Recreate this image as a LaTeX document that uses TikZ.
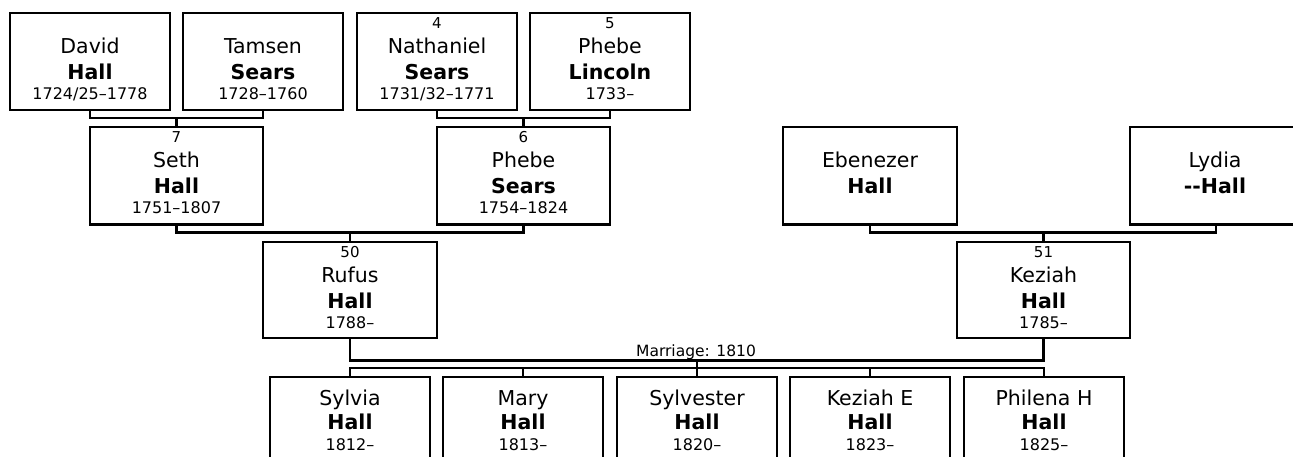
\documentclass[tikz,border=0pt]{standalone}
\usepackage{fontspec}
\setmainfont{DejaVu Sans}
\tikzset{
  pbox/.style={draw, line width=2.2pt, rectangle, outer sep=0pt, inner sep=0pt},
  link/.style={line width=2.2pt},
  nametxt/.style={anchor=base, inner sep=0pt, font=\fontsize{20.5}{24}\selectfont},
  lasttxt/.style={anchor=base, inner sep=0pt, font=\fontsize{20.5}{24}\selectfont\bfseries},
  yeartxt/.style={anchor=base, inner sep=0pt, font=\fontsize{16}{19}\selectfont},
  numtxt/.style={anchor=base, inner sep=0pt, font=\fontsize{15}{18}\selectfont},
}
\newcommand\ptxt[6]{%
  \node[nametxt] (#1-f) at (#2,#3+41) {#4};
  \node[lasttxt] (#1-l) at (#2,#3+66.5) {#5};
  \node[yeartxt] (#1-y) at (#2,#3+86.5) {#6};}
\newcommand\pnum[4]{\node[numtxt] (#1-n) at (#2,#3+15.5) {#4};}
\newcommand\ctxt[6]{%
  \node[nametxt] (#1-f) at (#2,#3+28.5) {#4};
  \node[lasttxt] (#1-l) at (#2,#3+52.5) {#5};
  \node[yeartxt] (#1-y) at (#2,#3+73.5) {#6};}
\begin{document}
\begin{tikzpicture}[x=1pt,y=-1pt]
\useasboundingbox (0,0) rectangle (1293,457);
\clip (0,0) rectangle (1293,457);
% row 1
\node[pbox, minimum width=160pt, minimum height=97pt] (david) at (90,61.5) {};
\node[pbox, minimum width=160pt, minimum height=97pt] (tamsen) at (263,61.5) {};
\node[pbox, minimum width=160pt, minimum height=97pt] (nath) at (437,61.5) {};
\node[pbox, minimum width=160pt, minimum height=97pt] (phebel) at (610,61.5) {};
\ptxt{david}{90}{13}{David}{Hall}{1724/25–1778}
\ptxt{tamsen}{263}{13}{Tamsen}{Sears}{1728–1760}
\pnum{nath}{437}{13}{4}
\ptxt{nath}{437}{13}{Nathaniel}{Sears}{1731/32–1771}
\pnum{phebel}{610}{13}{5}
\ptxt{phebel}{610}{13}{Phebe}{Lincoln}{1733–}
% row 2
\node[pbox, minimum width=173pt, minimum height=97.5pt] (seth) at (176.5,175.75) {};
\node[pbox, minimum width=173pt, minimum height=97.5pt] (phebes) at (523.5,175.75) {};
\node[pbox, minimum width=174pt, minimum height=97.5pt] (eben) at (870,175.75) {};
\node[pbox, minimum width=172pt, minimum height=97.5pt] (lydia) at (1216,175.75) {};
\pnum{seth}{176.5}{127}{7}
\ptxt{seth}{176.5}{127}{Seth}{Hall}{1751–1807}
\pnum{phebes}{523.5}{127}{6}
\ptxt{phebes}{523.5}{127}{Phebe}{Sears}{1754–1824}
\node[nametxt] (eben-f) at (870,168) {Ebenezer};
\node[lasttxt] (eben-l) at (870,193.5) {Hall};
\node[nametxt] (lydia-f) at (1215,168) {Lydia};
\node[lasttxt] (lydia-l) at (1215,193.5) {-{}-Hall};
% row 3
\node[pbox, minimum width=174pt, minimum height=96.3pt] (rufus) at (350,289.85) {};
\node[pbox, minimum width=173pt, minimum height=96.3pt] (keziah) at (1043.5,289.85) {};
\pnum{rufus}{350}{241.7}{50}
\ptxt{rufus}{350}{241.7}{Rufus}{Hall}{1788–}
\pnum{keziah}{1043.5}{241.7}{51}
\ptxt{keziah}{1043.5}{241.7}{Keziah}{Hall}{1785–}
% children
\node[pbox, minimum width=160pt, minimum height=104pt] (sylvia) at (350,428.7) {};
\node[pbox, minimum width=160pt, minimum height=104pt] (mary) at (523,428.7) {};
\node[pbox, minimum width=160pt, minimum height=104pt] (sylvester) at (697,428.7) {};
\node[pbox, minimum width=160pt, minimum height=104pt] (keziahe) at (870,428.7) {};
\node[pbox, minimum width=160pt, minimum height=104pt] (philena) at (1044,428.7) {};
\ctxt{sylvia}{350}{376.7}{Sylvia}{Hall}{1812–}
\ctxt{mary}{523}{376.7}{Mary}{Hall}{1813–}
\ctxt{sylvester}{697}{376.7}{Sylvester}{Hall}{1820–}
\ctxt{keziahe}{870}{376.7}{Keziah E}{Hall}{1823–}
\ctxt{philena}{1044}{376.7}{Philena H}{Hall}{1825–}
% connectors
\coordinate (b1) at (176.5,118);
\coordinate (b2) at (523.5,118);
\coordinate (b3) at (350,232.5);
\coordinate (b4) at (1043.5,232.5);
\coordinate (m) at (697,360.5);
\coordinate (c) at (697,368.3);
\draw[link] (david.south) |- (b1) -| (tamsen.south);
\draw[link] (b1) -- (seth.north);
\draw[link] (nath.south) |- (b2) -| (phebel.south);
\draw[link] (b2) -- (phebes.north);
\draw[link] (seth.south) |- (b3) -| (phebes.south);
\draw[link] (b3) -- (rufus.north);
\draw[link] (eben.south) |- (b4) -| (lydia.south);
\draw[link] (b4) -- (keziah.north);
\draw[link] (rufus.south) |- (m) -| (keziah.south);
\draw[link] (m) -- (c);
\draw[link] (sylvia.north) |- (c) -| (philena.north);
\draw[link] (mary.north) -- (mary.north |- c);
\draw[link] (sylvester.north) -- (sylvester.north |- c);
\draw[link] (keziahe.north) -- (keziahe.north |- c);
\node[anchor=base, inner sep=0pt, font=\fontsize{15.5}{18}\selectfont] (mlabel) at (696,356.5) {Marriage: 1810};
\end{tikzpicture}
\end{document}
